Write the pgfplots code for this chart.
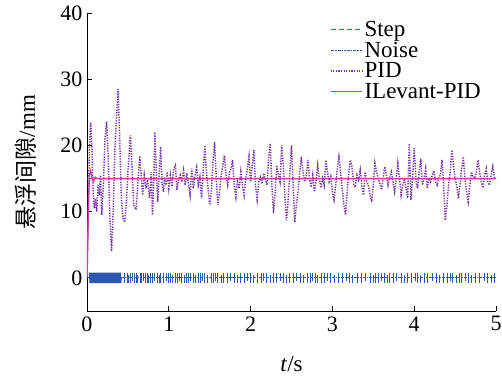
\documentclass[border=0pt]{standalone}
\usepackage{pgfplots}
\pgfplotsset{compat=1.18}
\usepackage{pgfplotstable}
\usepackage{fontspec}
\setmainfont{Liberation Serif}
\newfontfamily\cjk{Noto Sans CJK SC}
\definecolor{cstep}{RGB}{235,45,45}
\definecolor{cnoise}{RGB}{45,85,180}
\definecolor{cpid}{RGB}{118,58,168}
\definecolor{cil}{RGB}{200,65,165}
\newcommand{\tickf}{\fontsize{22}{24}\selectfont}
\newcommand{\labf}{\fontsize{23}{25}\selectfont}

\pgfplotstableread{
t up dn
0.46 0.8 -0.8
0.49 0.8 -0.8
0.51 0.5 -0.8
0.53 0.8 -0.8
0.56 0.8 -0.5
0.58 0.8 -0.8
0.60 0.8 -0.8
0.62 0.5 -0.8
0.65 0.8 -0.8
0.67 0.8 -0.8
0.69 0.8 -0.5
0.72 0.8 -0.8
0.74 0.8 -0.8
0.75 0.5 -0.8
0.77 0.8 -0.8
0.80 0.8 -0.8
0.83 0.8 -0.5
0.86 0.8 -0.8
0.88 0.5 -0.8
0.90 0.8 -0.8
0.94 0.8 -0.8
0.97 0.8 -0.5
1.00 0.8 -0.8
1.02 0.8 -0.8
1.05 0.5 -0.8
1.08 0.8 -0.8
1.10 0.8 -0.8
1.13 0.8 -0.5
1.16 0.8 -0.8
1.19 0.5 -0.8
1.22 0.8 -0.8
1.24 0.8 -0.8
1.27 0.8 -0.5
1.30 0.8 -0.8
1.33 0.5 -0.8
1.36 0.8 -0.8
1.39 0.8 -0.8
1.41 0.8 -0.5
1.44 0.8 -0.8
1.47 0.5 -0.8
1.52 0.8 -0.8
1.55 0.8 -0.8
1.57 0.8 -0.5
1.60 0.8 -0.8
1.64 0.5 -0.8
1.67 0.8 -0.8
1.72 0.8 -0.8
1.75 0.8 -0.5
1.80 0.8 -0.8
1.84 0.5 -0.8
1.88 0.8 -0.8
1.92 0.8 -0.8
1.96 0.8 -0.5
2.00 0.8 -0.8
2.03 0.5 -0.8
2.08 0.8 -0.8
2.13 0.8 -0.8
2.16 0.8 -0.5
2.19 0.8 -0.8
2.24 0.5 -0.8
2.28 0.8 -0.8
2.31 0.8 -0.8
2.36 0.8 -0.5
2.40 0.8 -0.8
2.44 0.5 -0.8
2.48 0.8 -0.8
2.52 0.8 -0.8
2.56 0.8 -0.5
2.61 0.8 -0.8
2.65 0.5 -0.8
2.70 0.8 -0.8
2.73 0.8 -0.8
2.76 0.8 -0.5
2.79 0.8 -0.8
2.82 0.5 -0.8
2.86 0.8 -0.8
2.90 0.8 -0.8
2.94 0.8 -0.5
2.98 0.8 -0.8
3.03 0.5 -0.8
3.07 0.8 -0.8
3.12 0.8 -0.8
3.17 0.8 -0.5
3.21 0.8 -0.8
3.25 0.5 -0.8
3.30 0.8 -0.8
3.35 0.8 -0.8
3.40 0.8 -0.5
3.46 0.8 -0.8
3.50 0.5 -0.8
3.53 0.8 -0.8
3.56 0.8 -0.8
3.60 0.8 -0.5
3.64 0.8 -0.8
3.67 0.5 -0.8
3.70 0.8 -0.8
3.74 0.8 -0.8
3.78 0.8 -0.5
3.84 0.8 -0.8
3.88 0.5 -0.8
3.92 0.8 -0.8
3.97 0.8 -0.8
4.01 0.8 -0.5
4.04 0.8 -0.8
4.08 0.5 -0.8
4.12 0.8 -0.8
4.16 0.8 -0.8
4.22 0.8 -0.5
4.27 0.8 -0.8
4.31 0.5 -0.8
4.36 0.8 -0.8
4.40 0.8 -0.8
4.44 0.8 -0.5
4.47 0.8 -0.8
4.52 0.5 -0.8
4.55 0.8 -0.8
4.58 0.8 -0.8
4.62 0.8 -0.5
4.66 0.8 -0.8
4.70 0.5 -0.8
4.75 0.8 -0.8
4.80 0.8 -0.8
4.86 0.8 -0.5
4.90 0.8 -0.8
4.94 0.5 -0.8
4.98 0.8 -0.8
}\noisetab

\pgfplotstableread{
t v
0.00 0
0.015 10
0.03 20
0.045 23.5
0.06 20
0.075 13
0.09 10.5
0.105 12
0.12 10
0.135 14
0.15 12.5
0.165 15.5
0.18 9.5
0.20 14
0.22 21
0.24 23.6
0.26 18
0.28 9
0.30 4
0.32 10
0.34 19
0.36 24
0.38 28.5
0.40 21
0.42 12
0.44 9
0.46 8.4
0.48 11
0.50 16
0.53 21.5
0.55 17
0.57 11
0.60 10.3
0.62 14
0.645 18.4
0.665 15
0.68 12.5
0.70 15.5
0.72 13.5
0.74 14.8
0.765 12
0.785 16
0.80 9.5
0.815 14
0.83 22
0.85 15
0.865 11.5
0.88 15
0.90 19.8
0.92 14
0.935 13
0.95 15.2
0.965 14
0.98 16
1.00 13.5
1.02 15.5
1.04 13.8
1.06 16.5
1.08 17
1.10 13.3
1.12 14.8
1.14 15.5
1.16 14.5
1.18 16.2
1.20 14
1.22 15.8
1.24 14.2
1.26 12.5
1.28 16.5
1.30 13.5
1.32 15.5
1.34 16.7
1.36 14
1.38 15.2
1.40 12
1.42 16
1.44 20
1.46 16
1.48 13.5
1.50 11
1.52 13
1.54 17.5
1.56 20.5
1.58 15
1.60 11
1.62 13
1.64 15.5
1.66 17
1.68 18.5
1.70 15.5
1.72 14
1.74 15.8
1.76 16.5
1.78 17.8
1.80 14
1.82 12.2
1.84 14.5
1.86 13.5
1.88 16
1.90 14
1.92 12.5
1.94 14.8
1.96 16.5
1.98 18.3
2.00 14.5
2.02 17
2.04 19.3
2.06 14
2.08 11.8
2.10 14.5
2.12 15.2
2.14 14.2
2.16 15.8
2.18 14.8
2.20 14
2.22 18
2.24 20.3
2.26 14
2.28 9.8
2.30 13
2.32 17
2.34 15.5
2.36 14.5
2.38 20
2.40 17
2.42 12
2.44 8.7
2.46 12
2.48 16
2.50 20
2.52 14
2.54 8.4
2.56 11
2.58 13
2.60 16
2.62 18.3
2.64 16
2.66 14.5
2.68 15.5
2.70 17.8
2.72 15
2.74 13.7
2.76 15.5
2.78 13
2.80 14.5
2.82 17
2.84 15
2.86 13.6
2.88 15
2.90 14
2.92 17.8
2.94 16
2.96 14.5
2.98 15.3
3.00 13
3.02 11.8
3.04 14
3.06 16.5
3.08 18.3
3.10 16
3.12 13.5
3.14 11
3.16 9.5
3.18 13
3.20 16
3.22 17.8
3.24 16.8
3.26 14
3.28 13.7
3.30 15.5
3.32 14.8
3.34 16.3
3.36 14
3.38 12.5
3.40 16
3.42 14.5
3.44 14
3.46 12.5
3.48 11.5
3.50 14
3.52 17.3
3.54 16
3.56 15
3.58 14.2
3.60 13.3
3.62 15
3.64 16.8
3.66 15.5
3.68 14
3.70 15.2
3.72 16
3.74 14.5
3.76 13
3.78 15
3.80 17.3
3.82 15
3.84 12.5
3.86 14
3.88 15
3.90 13.5
3.92 12
3.94 20.3
3.96 11.8
3.98 15
4.00 19.6
4.02 15
4.04 13.5
4.06 16
4.08 18
4.10 14
4.12 15
4.14 16.5
4.16 13.5
4.18 15
4.20 14.5
4.22 15.5
4.24 16.2
4.26 14.5
4.28 14
4.30 15.2
4.32 15.5
4.34 17.8
4.36 14
4.38 8.7
4.40 11
4.42 14
4.44 16
4.46 19.3
4.48 17
4.50 15
4.52 14
4.54 12
4.56 14
4.58 16.5
4.60 18.3
4.62 15
4.64 13
4.66 11.5
4.68 14
4.70 16
4.72 15.2
4.74 15
4.76 16
4.78 17.8
4.80 16
4.82 14.5
4.84 13.6
4.86 15.5
4.88 16.5
4.90 14.5
4.92 14
4.94 15.5
4.96 16.8
4.98 15.2
5.00 15
}\pidtab

\begin{document}
\begin{tikzpicture}
\useasboundingbox (-87pt,-66pt) rectangle (415pt,311pt);
\begin{axis}[
  at={(0pt,0pt)}, anchor=south west,
  width=409pt, height=298pt, scale only axis,
  xmin=0, xmax=5, ymin=-5, ymax=40,
  axis lines*=left,
  xtick={0,1,2,3,4,5}, ytick={0,10,20,30,40},
  tick align=inside, major tick length=5pt,
  tick style={black, line width=0.8pt},
  axis line style={black, line width=0.8pt},
  ticklabel style={font=\tickf},
  /pgf/number format/assume math mode=true,
  xticklabel style={yshift=-2pt},
  yticklabel style={xshift=-1pt},
  xlabel={\textit{t}/s},
  ylabel={{\cjk 悬浮间隙}/mm},
  label style={font=\labf},
  xlabel style={at={(axis description cs:0.5,-0.178)}, anchor=center},
  ylabel style={at={(axis description cs:-0.149,0.5)}, anchor=center},
  legend style={at={(1,1)}, anchor=north east, xshift=-10pt, yshift=-4pt,
    draw=none, fill=none, font=\labf, row sep=0pt},
  legend cell align=left,
  legend image code/.code={\draw[#1] (0cm,0cm) -- (1.1cm,0cm);},
]
\addplot[cstep, line width=1.2pt, dash pattern=on 5pt off 3pt] coordinates {(0,15) (5,15)};
\addlegendentry{Step}
\addplot[cnoise, line width=1.0pt, dash pattern=on 2pt off 0.8pt on 0.8pt off 0.8pt] coordinates {(0,0) (5,0)};
\addlegendentry{Noise}
\addplot[cpid, line width=1.5pt, dash pattern=on 1.3pt off 1.3pt] table[x=t, y=v] {\pidtab};
\addlegendentry{PID}
\addplot[cil, line width=1.4pt] coordinates {(0,0) (0.01,6) (0.02,12) (0.03,15.5) (0.045,16.2) (0.06,15.2) (0.08,14.6) (0.10,15.2) (0.13,15) (5,15)};
\addlegendentry{ILevant-PID}
\addplot[cnoise, line width=0.9pt, forget plot] coordinates {
(0.030,0.8)(0.035,-0.8)(0.040,0.8)(0.045,-0.8)(0.050,0.8)(0.055,-0.8)(0.060,0.8)(0.065,-0.8)(0.070,0.8)(0.075,-0.8)
(0.080,0.8)(0.085,-0.8)(0.090,0.8)(0.095,-0.8)(0.100,0.8)(0.105,-0.8)(0.110,0.8)(0.115,-0.8)(0.120,0.8)(0.125,-0.8)
(0.130,0.8)(0.135,-0.8)(0.140,0.8)(0.145,-0.8)(0.150,0.8)(0.155,-0.8)(0.160,0.8)(0.165,-0.8)(0.170,0.8)(0.175,-0.8)
(0.180,0.8)(0.185,-0.8)(0.190,0.8)(0.195,-0.8)(0.200,0.8)(0.205,-0.8)(0.210,0.8)(0.215,-0.8)(0.220,0.8)(0.225,-0.8)
(0.230,0.8)(0.235,-0.8)(0.240,0.8)(0.245,-0.8)(0.250,0.8)(0.255,-0.8)(0.260,0.8)(0.265,-0.8)(0.270,0.8)(0.275,-0.8)
(0.280,0.8)(0.285,-0.8)(0.290,0.8)(0.295,-0.8)(0.300,0.8)(0.305,-0.8)(0.310,0.8)(0.315,-0.8)(0.320,0.8)(0.325,-0.8)
(0.330,0.8)(0.335,-0.8)(0.340,0.8)(0.345,-0.8)(0.350,0.8)(0.355,-0.8)(0.360,0.8)(0.365,-0.8)(0.370,0.8)(0.375,-0.8)
(0.380,0.8)(0.385,-0.8)(0.390,0.8)(0.395,-0.8)(0.400,0.8)(0.405,-0.8)(0.410,0.8)(0.415,-0.8)(0.420,0)};
\addplot[cnoise, line width=0.8pt, ycomb, forget plot] table[x=t, y=up] {\noisetab};
\addplot[cnoise, line width=0.8pt, ycomb, forget plot] table[x=t, y=dn] {\noisetab};
\end{axis}
\end{tikzpicture}
\end{document}
